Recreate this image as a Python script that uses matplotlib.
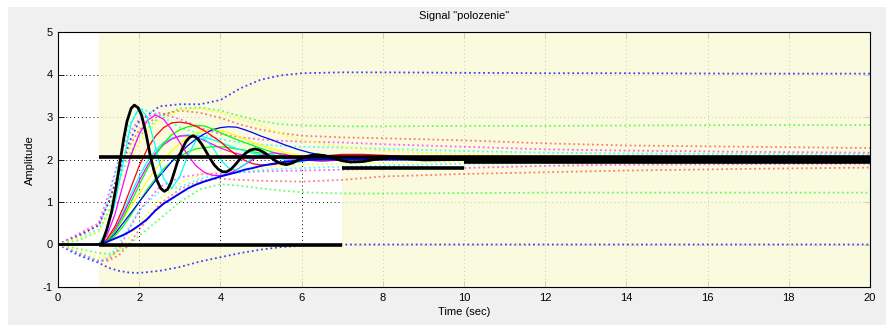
import matplotlib
matplotlib.use('Agg')
import matplotlib.pyplot as plt
from matplotlib import font_manager
from matplotlib.patches import Rectangle

# nominal response (thick black)
t_nom = [0, 1.0, 1.08, 1.2, 1.32, 1.43, 1.53, 1.62, 1.7, 1.8, 1.88, 1.97, 2.06, 2.17, 2.27, 2.36,
         2.44, 2.53, 2.62, 2.7, 2.78, 2.87, 2.96, 3.06, 3.15, 3.24, 3.33, 3.43, 3.54, 3.64, 3.74,
         3.85, 3.95, 4.06, 4.15, 4.26, 4.36, 4.48, 4.61, 4.73, 4.85, 4.97, 5.1, 5.25, 5.39, 5.51,
         5.63, 5.78, 5.92, 6.08, 6.25, 6.4, 6.58, 6.72, 6.86, 7.0, 7.2, 7.5, 7.8, 8.2, 8.6, 9.0,
         10, 20]
y_nom = [0, 0, 0.02, 0.35, 0.77, 1.35, 1.95, 2.5, 2.9, 3.2, 3.28, 3.22, 3.04, 2.6, 2.1, 1.75,
         1.5, 1.32, 1.25, 1.3, 1.45, 1.72, 2.0, 2.25, 2.42, 2.52, 2.56, 2.5, 2.36, 2.2, 2.03,
         1.87, 1.77, 1.71, 1.71, 1.77, 1.87, 2.01, 2.14, 2.22, 2.25, 2.22, 2.15, 2.04, 1.95, 1.9,
         1.88, 1.92, 1.99, 2.06, 2.1, 2.11, 2.09, 2.05, 2.01, 1.97, 1.94, 1.95, 2.0, 2.04, 2.02, 1.99,
         2.0, 2.0]

# uncertain responses (thin solid)
t_var = [1.0, 1.2, 1.4, 1.6, 1.8, 2.0, 2.2, 2.4, 2.6, 2.8, 3.0, 3.2, 3.4, 3.6, 3.8, 4.0, 4.2,
         4.4, 4.6, 4.8, 5.0, 5.3, 5.6, 5.9, 6.2, 6.5, 7.0, 7.5, 8.0, 9.0, 10.0, 12.0, 15.0, 20.0]
y_cyan = [0, 0.3, 0.95, 1.9, 2.85, 3.22, 3.0, 2.3, 1.55, 1.32, 1.6, 2.1, 2.45, 2.5, 2.3, 2.0, 1.8,
          1.75, 1.88, 2.05, 2.15, 2.12, 1.98, 1.93, 2.0, 2.05, 2.02, 1.99, 2.0, 2.0, 2.0, 2.0, 2.0, 2.0]
y_magenta = [0, 0.2, 0.7, 1.4, 2.1, 2.6, 2.92, 3.05, 2.95, 2.7, 2.4, 2.1, 1.85, 1.7, 1.63, 1.62,
             1.66, 1.76, 1.88, 2.0, 2.1, 2.16, 2.12, 2.04, 1.98, 1.96, 1.99, 2.02, 2.01, 2.0, 2.0,
             2.0, 2.0, 2.0]
y_red = [0, 0.12, 0.42, 0.85, 1.35, 1.85, 2.25, 2.55, 2.75, 2.86, 2.88, 2.85, 2.78, 2.68, 2.55,
         2.42, 2.25, 2.1, 1.98, 1.9, 1.87, 1.88, 1.93, 1.98, 2.03, 2.08, 2.12, 2.12, 2.1, 2.05,
         2.02, 2.0, 2.0, 2.0]
y_green = [0, 0.08, 0.3, 0.62, 1.0, 1.4, 1.78, 2.1, 2.38, 2.58, 2.7, 2.77, 2.8, 2.79, 2.72, 2.63,
           2.55, 2.47, 2.4, 2.33, 2.26, 2.17, 2.08, 2.02, 1.98, 1.97, 1.99, 2.02, 2.03, 2.01, 2.0,
           2.0, 2.0, 2.0]
y_yellow = [0, 0.1, 0.3, 0.6, 0.9, 1.2, 1.5, 1.77, 2.0, 2.2, 2.38, 2.52, 2.62, 2.68, 2.7, 2.68,
            2.63, 2.56, 2.48, 2.4, 2.33, 2.24, 2.16, 2.1, 2.05, 2.02, 2.0, 2.0, 2.0, 2.0, 2.0,
            2.0, 2.0, 2.0]
y_blue = [0, 0.08, 0.25, 0.5, 0.75, 1.0, 1.25, 1.5, 1.72, 1.95, 2.15, 2.33, 2.48, 2.6, 2.7, 2.75,
          2.77, 2.76, 2.7, 2.63, 2.55, 2.45, 2.34, 2.24, 2.16, 2.1, 2.05, 2.02, 2.0, 2.0, 2.0,
          2.0, 2.0, 2.0]
y_blue_slow = [0, 0.06, 0.14, 0.22, 0.32, 0.45, 0.6, 0.8, 0.96, 1.08, 1.2, 1.32, 1.41, 1.48, 1.54,
               1.6, 1.65, 1.7, 1.76, 1.8, 1.85, 1.9, 1.95, 1.97, 1.99, 2.0, 2.0, 2.0, 2.0, 2.0,
               2.0, 2.0, 2.0, 2.0]
y_magenta2 = [0, 0.1, 0.35, 0.7, 1.1, 1.5, 1.85, 2.15, 2.35, 2.48, 2.55, 2.56, 2.52, 2.45, 2.36,
              2.27, 2.2, 2.14, 2.1, 2.07, 2.05, 2.03, 2.02, 2.01, 2.0, 2.0, 2.0, 2.0, 2.0, 2.0,
              2.0, 2.0, 2.0, 2.0]
y_green2 = [0, 0.05, 0.2, 0.42, 0.7, 1.0, 1.3, 1.55, 1.78, 1.95, 2.08, 2.18, 2.25, 2.28, 2.3, 2.3,
            2.28, 2.25, 2.22, 2.18, 2.15, 2.1, 2.06, 2.03, 2.01, 2.0, 2.0, 2.0, 2.0, 2.0, 2.0,
            2.0, 2.0, 2.0]
y_cyan2 = [0, 0.1, 0.35, 0.75, 1.2, 1.6, 1.95, 2.22, 2.4, 2.5, 2.56, 2.58, 2.57, 2.53, 2.47, 2.4,
           2.33, 2.26, 2.2, 2.15, 2.1, 2.05, 2.02, 2.0, 2.0, 2.0, 2.0, 2.0, 2.0, 2.0, 2.0,
           2.0, 2.0, 2.0]

# envelopes (dotted)
t_env = [0, 0.5, 1.0, 1.25, 1.5, 1.75, 2.0, 2.5, 3.0, 3.5, 4.0, 4.5, 5.0, 5.5, 6.0, 7.0, 8.0,
         10.0, 12.0, 14.0, 17.0, 20.0]
blue_hi = [0, 0.2, 0.45, 1.0, 1.7, 2.4, 2.9, 3.25, 3.3, 3.3, 3.4, 3.68, 3.88, 3.98, 4.03, 4.05,
           4.05, 4.04, 4.03, 4.03, 4.02, 4.02]
blue_lo = [0, -0.25, -0.43, -0.55, -0.62, -0.66, -0.67, -0.62, -0.53, -0.4, -0.3, -0.2, -0.12,
           -0.06, -0.03, 0.0, 0.0, 0.0, 0.0, 0.0, 0.0, 0.0]
green_hi = [0, 0.1, 0.3, 0.8, 1.5, 2.1, 2.55, 3.0, 3.2, 3.22, 3.15, 3.02, 2.9, 2.83, 2.8, 2.78,
            2.78, 2.79, 2.79, 2.8, 2.81, 2.81]
green_lo = [0, -0.1, -0.2, -0.22, -0.15, 0.0, 0.2, 0.6, 1.0, 1.3, 1.42, 1.38, 1.32, 1.27, 1.23,
            1.2, 1.2, 1.21, 1.22, 1.22, 1.22, 1.22]
red_hi = [0, 0.22, 0.45, 1.0, 1.7, 2.3, 2.7, 3.05, 3.15, 3.1, 2.98, 2.82, 2.7, 2.62, 2.56, 2.52,
          2.5, 2.45, 2.38, 2.33, 2.3, 2.27]
red_lo = [0, -0.2, -0.38, -0.38, -0.25, 0.0, 0.35, 0.95, 1.3, 1.5, 1.55, 1.52, 1.5, 1.49, 1.48,
          1.52, 1.6, 1.66, 1.7, 1.74, 1.78, 1.81]
magenta_hi = [0, 0.25, 0.5, 1.2, 2.0, 2.6, 2.95, 3.1, 2.95, 2.75, 2.6, 2.52, 2.47, 2.44, 2.42,
              2.4, 2.36, 2.3, 2.24, 2.21, 2.18, 2.16]
magenta_lo = [0, -0.2, -0.4, -0.35, -0.1, 0.35, 0.8, 1.35, 1.58, 1.65, 1.68, 1.7, 1.72, 1.73,
              1.74, 1.76, 1.78, 1.8, 1.85, 1.88, 1.89, 1.9]
cyan_hi = [0, 0.18, 0.35, 1.1, 2.0, 2.8, 3.2, 3.05, 2.75, 2.6, 2.48, 2.4, 2.35, 2.32, 2.3, 2.28,
           2.25, 2.2, 2.16, 2.14, 2.13, 2.12]
cyan_lo = [0, -0.2, -0.4, -0.3, 0.0, 0.4, 0.8, 1.25, 1.35, 1.55, 1.65, 1.7, 1.75, 1.78, 1.8,
           1.83, 1.86, 1.9, 1.92, 1.94, 1.95, 1.95]
yellow_hi = [0, 0.15, 0.3, 0.7, 1.3, 1.9, 2.4, 2.95, 3.15, 3.2, 3.1, 2.95, 2.8, 2.6, 2.45, 2.3,
             2.2, 2.12, 2.08, 2.06, 2.05, 2.05]
yellow_lo = [0, -0.15, -0.3, -0.3, -0.15, 0.15, 0.5, 1.05, 1.45, 1.65, 1.72, 1.75, 1.8, 1.85,
             1.88, 1.9, 1.92, 1.94, 1.95, 1.96, 1.96, 1.96]

# constraint bounds
upper_t = [1, 20]
upper_y = [2.05, 2.05]
lower_t = [[1, 7], [7, 10], [10, 20]]
lower_y = [0.0, 1.8, 1.95]

x_ticks = [0, 2, 4, 6, 8, 10, 12, 14, 16, 18, 20]
y_ticks = [-1, 0, 1, 2, 3, 4, 5]

names = {f.name for f in font_manager.fontManager.ttflist}
fam = 'Liberation Sans Narrow' if 'Liberation Sans Narrow' in names else 'Liberation Sans'
plt.rcParams['font.family'] = fam
plt.rcParams['axes.unicode_minus'] = False

fig = plt.figure(figsize=(8.9, 3.25), dpi=100, facecolor='white')
fig.patches.append(Rectangle((8 / 890, 0), 878 / 890, 1 - 7 / 325, transform=fig.transFigure,
                             facecolor='#f0f0f0', edgecolor='none', zorder=-10))
ax = fig.add_axes([58 / 890, 1 - 287 / 325, 812 / 890, 255 / 325])
ax.set_facecolor('white')
ax.set_xlim(0, 20)
ax.set_ylim(-1, 5)

# grid below the constraint patches
ax.grid(True, linestyle=(0, (1, 3)), color='black', linewidth=0.7, zorder=0)
ax.set_axisbelow(True)

yel = '#f9f9d8'
ax.fill_between(upper_t, upper_y, 5, facecolor=yel, edgecolor='none', alpha=0.82, zorder=1)
for seg, lv in zip(lower_t, lower_y):
    ax.fill_between(seg, -1, lv, facecolor=yel, edgecolor='none', alpha=0.82, zorder=1)

dot = (0, (1, 1.6))
env = [(blue_hi, blue_lo, '#2020ff', 0.85), (green_hi, green_lo, '#00ff00', 0.6),
       (red_hi, red_lo, '#ff0000', 0.5), (magenta_hi, magenta_lo, '#ff00ff', 0.6),
       (cyan_hi, cyan_lo, '#00ffff', 0.7), (yellow_hi, yellow_lo, '#ffff00', 0.8)]
for hi, lo, c, a in env:
    ax.plot(t_env, hi, linestyle=dot, color=c, lw=1.3, alpha=a, zorder=2)
    ax.plot(t_env, lo, linestyle=dot, color=c, lw=1.3, alpha=a, zorder=2)

solids = [(y_green2, '#00ff00'), (y_cyan2, '#00ffff'),
          (y_magenta2, '#ff00ff'), (y_yellow, '#ffff00'), (y_blue, '#0000ff'),
          (y_green, '#00ff00'), (y_red, '#ff0000'), (y_magenta, '#ff00ff'), (y_cyan, '#00ffff')]
for ys, c in solids:
    ax.plot(t_var, ys, color=c, lw=0.9, zorder=3)
# the slow blue one is drawn a bit heavier
ax.plot(t_var, y_blue_slow, color='#0000ff', lw=1.4, zorder=3)

ax.plot(t_nom, y_nom, color='black', lw=2.0, zorder=4)

ax.plot(upper_t, upper_y, color='black', lw=2.6, solid_capstyle='butt', zorder=5)
for seg, lv in zip(lower_t, lower_y):
    ax.plot(seg, [lv, lv], color='black', lw=2.6, solid_capstyle='butt', zorder=5)

ax.set_xticks(x_ticks)
ax.set_yticks(y_ticks)
ax.tick_params(direction='in', top=True, right=True, length=4, width=0.6, labelsize=8, pad=4)
for s in ax.spines.values():
    s.set_linewidth(0.8)

fig.text(464 / 890, 1 - 16 / 325, 'Signal "polozenie"', ha='center', va='center', fontsize=8)
fig.text(464 / 890, 1 - 312 / 325, 'Time (sec)', ha='center', va='center', fontsize=8)
fig.text(30 / 890, 1 - 160 / 325, 'Amplitude', ha='center', va='center', rotation=90, fontsize=8)

fig.savefig('out.png', dpi=100, facecolor=fig.get_facecolor())
